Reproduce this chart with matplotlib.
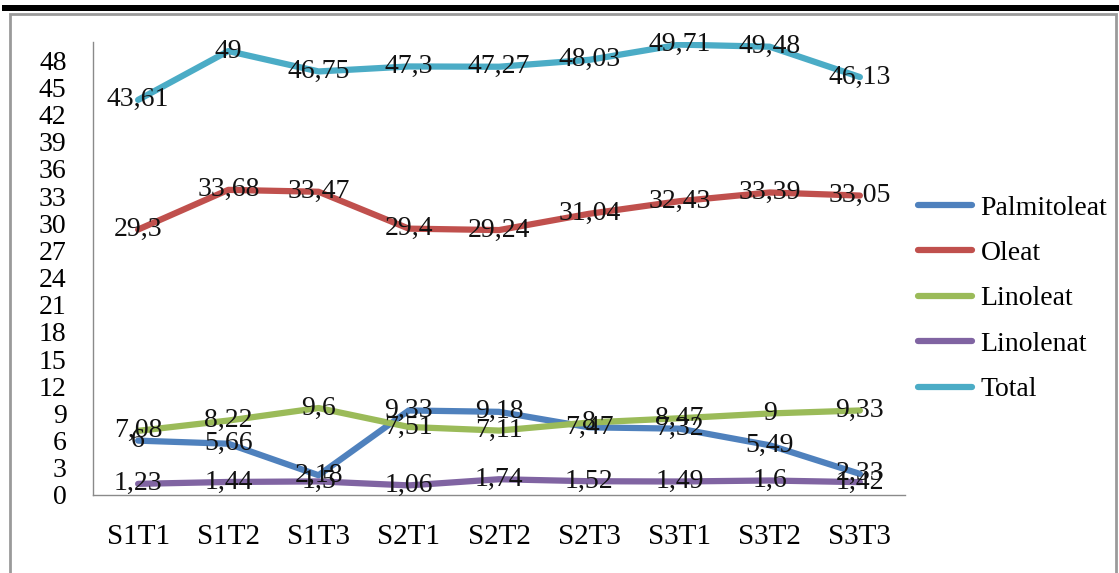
import numpy as np
import matplotlib
matplotlib.use('Agg')
from matplotlib import pyplot as plt
from matplotlib.patches import Rectangle

# samples
samples = ['S1T1', 'S1T2', 'S1T3', 'S2T1', 'S2T2', 'S2T3', 'S3T1', 'S3T2', 'S3T3']

# fatty acid content per sample
palmitoleat = [6, 5.66, 2.18, 9.33, 9.18, 7.47, 7.32, 5.49, 2.33]
oleat       = [29.3, 33.68, 33.47, 29.4, 29.24, 31.04, 32.43, 33.39, 33.05]
linoleat    = [7.08, 8.22, 9.6, 7.51, 7.11, 8, 8.47, 9, 9.33]
linolenat   = [1.23, 1.44, 1.5, 1.06, 1.74, 1.52, 1.49, 1.6, 1.42]
total       = [43.61, 49, 46.75, 47.3, 47.27, 48.03, 49.71, 49.48, 46.13]

series_names = ['Palmitoleat', 'Oleat', 'Linoleat', 'Linolenat', 'Total']
yticks = list(range(0, 49, 3))

plt.rcParams['font.family'] = ['Liberation Serif', 'DejaVu Serif']

colors = ['#4F81BD', '#C0504D', '#9BBB59', '#8064A2', '#4BACC6']

fig = plt.figure(figsize=(11.19, 5.73), dpi=100)
ax = fig.add_axes([93/1119, 1-495/573, (905-93)/1119, (495-42)/573])

# thick black rule at the top and gray frame of the chart area
fig.patches.append(Rectangle((2/1119, 1-11/573), 1117/1119, 6/573, transform=fig.transFigure,
                             facecolor='black', edgecolor='none'))
fig.patches.append(Rectangle((10/1119, -0.02), 1106/1119, 1.02-14/573, transform=fig.transFigure,
                             facecolor='none', edgecolor='#9a9a9a', linewidth=2))

x = np.arange(len(samples))
data = [palmitoleat, oleat, linoleat, linolenat, total]
for name, vals, c in zip(series_names, data, colors):
    ax.plot(x, vals, color=c, linewidth=4.5, solid_capstyle='round', label=name, zorder=2)

# value labels centred on the points, decimal comma
for vals in data:
    for xi, v in zip(x, vals):
        ax.text(xi, v, f'{v:g}'.replace('.', ','), ha='center', va='center',
                fontsize=20, color='#111111', zorder=3)

ax.set_xlim(-0.5, len(samples)-0.5)
ax.set_ylim(0, 50)
ax.set_yticks(yticks)
ax.set_yticklabels([str(t) for t in yticks])
ax.set_xticks(x)
ax.set_xticklabels(samples)
ax.tick_params(axis='y', length=0, pad=19, labelsize=20)
ax.tick_params(axis='x', length=0, pad=21, labelsize=21)
for s in ['top', 'right']:
    ax.spines[s].set_visible(False)
for s in ['left', 'bottom']:
    ax.spines[s].set_color('#8a8a8a')
    ax.spines[s].set_linewidth(1)

leg = fig.legend(loc='upper left', bbox_to_anchor=(907/1119, 1-184/573), frameon=False,
                 fontsize=20, handlelength=1.95, handletextpad=0.3, labelspacing=0.72,
                 borderaxespad=0)

fig.savefig('out.png', dpi=100)
